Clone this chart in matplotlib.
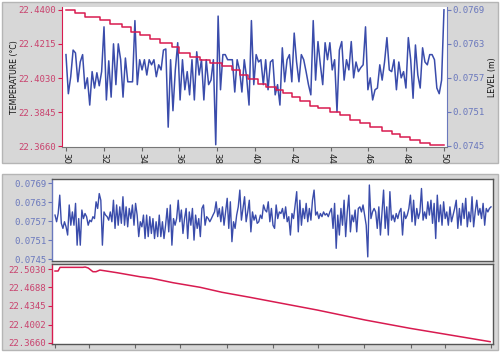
import matplotlib
matplotlib.use("Agg")
import matplotlib.pyplot as plt
import numpy as np
from matplotlib.patches import Rectangle

# ---------------- data ----------------
# Top chart: level (m) vs time, evenly sampled from 30 to 50
top_time_range = [30, 50]
top_level = [
    0.07611, 0.07542, 0.07572, 0.07619, 0.07614, 0.07563, 0.07598, 0.07611, 0.07551, 0.07570,
    0.07522, 0.07581, 0.07552, 0.07579, 0.07556, 0.07581, 0.07660, 0.07531, 0.07600, 0.07536,
    0.07630, 0.07558, 0.07630, 0.07602, 0.07536, 0.07605, 0.07563, 0.07563, 0.07563, 0.07671,
    0.07558, 0.07602, 0.07584, 0.07602, 0.07575, 0.07602, 0.07593, 0.07602, 0.07572, 0.07593,
    0.07584, 0.07619, 0.07621, 0.07483, 0.07602, 0.07512, 0.07584, 0.07632, 0.07531, 0.07602,
    0.07549, 0.07581, 0.07540, 0.07602, 0.07531, 0.07616, 0.07575, 0.07602, 0.07531, 0.07602,
    0.07558, 0.07566, 0.07602, 0.07452, 0.07679, 0.07549, 0.07611, 0.07611, 0.07602, 0.07602,
    0.07602, 0.07545, 0.07602, 0.07584, 0.07545, 0.07602, 0.07570, 0.07522, 0.07671, 0.07558,
    0.07611, 0.07598, 0.07602, 0.07558, 0.07602, 0.07549, 0.07598, 0.07602, 0.07540, 0.07558,
    0.07522, 0.07623, 0.07563, 0.07602, 0.07611, 0.07563, 0.07649, 0.07598, 0.07563, 0.07611,
    0.07602, 0.07581, 0.07558, 0.07540, 0.07671, 0.07566, 0.07634, 0.07593, 0.07558, 0.07632,
    0.07602, 0.07632, 0.07584, 0.07602, 0.07510, 0.07619, 0.07634, 0.07566, 0.07602, 0.07584,
    0.07634, 0.07570, 0.07598, 0.07581, 0.07588, 0.07593, 0.07660, 0.07549, 0.07570, 0.07531,
    0.07549, 0.07552, 0.07593, 0.07566, 0.07598, 0.07641, 0.07584, 0.07581, 0.07602, 0.07549,
    0.07598, 0.07570, 0.07581, 0.07552, 0.07641, 0.07602, 0.07534, 0.07628, 0.07575, 0.07552,
    0.07623, 0.07598, 0.07593, 0.07611, 0.07611, 0.07602, 0.07552, 0.07542, 0.07566, 0.07690,
]
# Top chart: temperature staircase (step start times and values)
top_temp_time = [
    30.0, 30.48, 31.0, 31.8, 32.33, 32.96, 33.44, 33.92, 34.44, 34.97,
    35.6, 35.98, 36.56, 37.09, 37.62, 38.25, 38.78, 39.21, 39.63, 40.16,
    40.58, 41.11, 41.48, 41.96, 42.38, 42.91, 43.33, 43.97, 44.5, 45.03,
    45.56, 46.08, 46.72, 47.25, 47.67, 48.2, 48.73, 49.26, 50.0,
]
top_temp = [
    22.4400, 22.4384, 22.4362, 22.4346, 22.4324, 22.4308, 22.4280, 22.4264, 22.4242, 22.4220,
    22.4199, 22.4166, 22.4144, 22.4128, 22.4112, 22.4095, 22.4074, 22.4046, 22.4025, 22.3997,
    22.3981, 22.3965, 22.3948, 22.3927, 22.3905, 22.3878, 22.3867, 22.3845, 22.3829, 22.3802,
    22.3785, 22.3764, 22.3742, 22.3725, 22.3709, 22.3693, 22.3676, 22.3666, 22.3666,
]
top_xticks = [30, 32, 34, 36, 38, 40, 42, 44, 46, 48, 50]
temp_ticks = [22.3660, 22.3845, 22.4030, 22.4215, 22.4400]
level_ticks = [0.0745, 0.0751, 0.0757, 0.0763, 0.0769]

# Bottom chart: level, evenly sampled over 0..100
bottom_time_range = [0, 100]
bottom_level = [
    0.07589, 0.07568, 0.07594, 0.07652, 0.07563, 0.07547, 0.07568, 0.07552, 0.07526, 0.07621,
    0.07557, 0.07599, 0.07557, 0.07626, 0.07494, 0.07578, 0.07494, 0.07605, 0.07578, 0.07594,
    0.07584, 0.07557, 0.07573, 0.07568, 0.07584, 0.07578, 0.07631, 0.07610, 0.07657, 0.07636,
    0.07494, 0.07599, 0.07589, 0.07584, 0.07573, 0.07599, 0.07568, 0.07636, 0.07547, 0.07621,
    0.07557, 0.07615, 0.07563, 0.07647, 0.07557, 0.07615, 0.07552, 0.07610, 0.07578, 0.07621,
    0.07557, 0.07626, 0.07589, 0.07521, 0.07568, 0.07552, 0.07589, 0.07515, 0.07589, 0.07521,
    0.07584, 0.07531, 0.07578, 0.07515, 0.07568, 0.07521, 0.07589, 0.07521, 0.07568, 0.07515,
    0.07557, 0.07610, 0.07536, 0.07621, 0.07494, 0.07578, 0.07557, 0.07578, 0.07636, 0.07568,
    0.07605, 0.07531, 0.07578, 0.07610, 0.07515, 0.07599, 0.07557, 0.07610, 0.07510, 0.07589,
    0.07547, 0.07578, 0.07521, 0.07610, 0.07621, 0.07557, 0.07584, 0.07578, 0.07568, 0.07578,
    0.07589, 0.07599, 0.07631, 0.07584, 0.07610, 0.07568, 0.07615, 0.07557, 0.07599, 0.07642,
    0.07547, 0.07631, 0.07505, 0.07568, 0.07547, 0.07589, 0.07615, 0.07668, 0.07573, 0.07610,
    0.07647, 0.07568, 0.07599, 0.07636, 0.07536, 0.07599, 0.07573, 0.07589, 0.07563, 0.07568,
    0.07589, 0.07578, 0.07621, 0.07605, 0.07599, 0.07631, 0.07568, 0.07610, 0.07557, 0.07547,
    0.07621, 0.07578, 0.07599, 0.07594,
    0.07610, 0.07578, 0.07615, 0.07568, 0.07584, 0.07526, 0.07594, 0.07578, 0.07621, 0.07663,
    0.07536, 0.07636, 0.07557, 0.07610, 0.07578, 0.07626, 0.07568, 0.07610, 0.07573, 0.07636,
    0.07668, 0.07589, 0.07599, 0.07578, 0.07594, 0.07584, 0.07599, 0.07589, 0.07594, 0.07584,
    0.07599, 0.07610, 0.07547, 0.07626, 0.07484, 0.07589, 0.07526, 0.07610, 0.07557, 0.07636,
    0.07521, 0.07599, 0.07652, 0.07536, 0.07589, 0.07568, 0.07605, 0.07536, 0.07610, 0.07615,
    0.07599, 0.07621, 0.07589, 0.07557, 0.07457, 0.07684, 0.07578, 0.07599, 0.07610, 0.07599,
    0.07547, 0.07615, 0.07526, 0.07599, 0.07668, 0.07547, 0.07615, 0.07526, 0.07663, 0.07573,
    0.07589, 0.07568, 0.07594, 0.07578, 0.07599, 0.07610, 0.07526, 0.07599, 0.07578, 0.07589,
    0.07610, 0.07652, 0.07568, 0.07636, 0.07557, 0.07610, 0.07578, 0.07599, 0.07673, 0.07573,
    0.07599, 0.07578, 0.07631, 0.07589, 0.07636, 0.07563, 0.07626, 0.07515, 0.07652, 0.07568,
    0.07621, 0.07557, 0.07631, 0.07578, 0.07599, 0.07557, 0.07615, 0.07568, 0.07589, 0.07610,
    0.07636, 0.07547, 0.07610, 0.07557, 0.07626, 0.07578, 0.07642, 0.07552, 0.07599, 0.07568,
    0.07647, 0.07552, 0.07599, 0.07636, 0.07589, 0.07610, 0.07578, 0.07626, 0.07557, 0.07610,
    0.07599, 0.07610, 0.07615,
]
# Bottom chart: temperature
bottom_temp_time = [0, 0.7, 1.15, 6.4, 6.9, 7.6, 8.7, 9.4, 10.3, 14.2, 19.5, 22.2, 27.1,
                    33.3, 38.3, 44.7, 50.0, 60.1, 71.1, 81.4, 90.6, 99.8]
bottom_temp = [22.4993, 22.4993, 22.5061, 22.5061, 22.5067, 22.5050, 22.4980, 22.4980,
               22.5011, 22.4962, 22.4887, 22.4858, 22.4776, 22.4691, 22.4599, 22.4506,
               22.4425, 22.4271, 22.4086, 22.3932, 22.3808, 22.3684]
bottom_level_ticks = [0.0745, 0.0751, 0.0757, 0.0763, 0.0769]
bottom_temp_ticks = [22.3660, 22.4002, 22.4345, 22.4688, 22.5030]
bottom_xticks = [0, 7.8, 18.3, 28.7, 39.4, 50, 60.3, 70.9, 81.7, 89.4, 100]

# ---------------- style ----------------
BLUE = "#3a4cab"
RED = "#d81b50"
RED_TXT = "#c9436e"
BLUE_TXT = "#6a78bd"
PANEL = "#d7d7d7"
MONO = "DejaVu Sans Mono"
FS = 6.5

W, H = 500, 352
fig = plt.figure(figsize=(W / 100, H / 100), dpi=100, facecolor="white")


def fr(x0, y0, x1, y1):
    # pixel box (top-left origin) -> figure fraction [left, bottom, width, height]
    return [x0 / W, 1 - y1 / H, (x1 - x0) / W, (y1 - y0) / H]


# gray panels
for box in [(2, 2, 498, 163), (2, 174, 498, 350)]:
    l, b, w, h = fr(*box)
    fig.patches.append(Rectangle((l, b), w, h, transform=fig.transFigure,
                                 facecolor=PANEL, edgecolor="#b5b5b5", lw=1.0, zorder=-10))

# ---------------- top chart ----------------
ax1 = fig.add_axes(fr(62, 7, 447, 147))
ax2 = ax1.twinx()
ax1.set_zorder(2)
ax2.set_zorder(1)
ax1.patch.set_visible(False)
ax2.patch.set_visible(True)
ax2.patch.set_facecolor("white")

x_top = np.linspace(top_time_range[0], top_time_range[1], len(top_level))
ax2.plot(x_top, top_level, color=BLUE, lw=1.1)
ax1.plot(top_temp_time, top_temp, color=RED, lw=1.1, drawstyle="steps-post")

ax1.set_xlim(29.79, 50.16)
ax1.set_ylim(22.3655, 22.4416)
ax2.set_ylim(0.07448, 0.07695)

ax1.set_xticks(top_xticks)
ax1.set_xticklabels([str(t) for t in top_xticks], rotation=-90, fontsize=6.2, color="#222222")
ax1.set_yticks(temp_ticks)
ax1.set_yticklabels([f"{t:.4f}" for t in temp_ticks], family=MONO, fontsize=FS, color=RED_TXT)
ax2.set_yticks(level_ticks)
ax2.set_yticklabels([f"{t:.4f}" for t in level_ticks], family=MONO, fontsize=FS, color=BLUE_TXT)

ax1.tick_params(axis="y", colors=RED, labelcolor=RED_TXT, length=3, pad=1.2)
ax2.tick_params(axis="y", colors=BLUE_TXT, labelcolor=BLUE_TXT, length=3, pad=1.0)
ax1.tick_params(axis="x", colors="#666666", labelcolor="#222222", length=3, pad=1.5)

for ax in (ax1, ax2):
    ax.spines["top"].set_visible(False)
ax1.spines["left"].set_color(RED)
ax1.spines["right"].set_visible(False)
ax2.spines["left"].set_visible(False)
ax2.spines["right"].set_color(BLUE_TXT)
ax1.spines["bottom"].set_color("#777777")
ax2.spines["bottom"].set_visible(False)

fig.text(15 / W, 1 - 77 / H, "TEMPERATURE (°C)", rotation=90, ha="center", va="center",
         fontsize=5.6, color="#111111")
fig.text(492 / W, 1 - 77 / H, "LEVEL (m)", rotation=90, ha="center", va="center",
         fontsize=5.6, color="#111111")

# ---------------- bottom chart ----------------
ax3 = fig.add_axes(fr(52, 179, 493, 261))
ax4 = fig.add_axes(fr(52, 264, 493, 344), sharex=ax3)

x_bot = np.linspace(bottom_time_range[0], bottom_time_range[1], len(bottom_level))
ax3.plot(x_bot, bottom_level, color=BLUE, lw=1.0)
ax4.plot(bottom_temp_time, bottom_temp, color=RED, lw=1.1)

ax3.set_xlim(-0.69, 100.46)
ax3.set_ylim(0.07444, 0.07703)
ax4.set_ylim(22.3641, 22.5123)

ax3.set_yticks(bottom_level_ticks)
ax3.set_yticklabels([f"{t:.4f}" for t in bottom_level_ticks], family=MONO, fontsize=FS,
                    color=BLUE_TXT)
ax4.set_yticks(bottom_temp_ticks)
ax4.set_yticklabels([f"{t:.4f}" for t in bottom_temp_ticks], family=MONO, fontsize=FS,
                    color=RED_TXT)
ax4.set_xticks(bottom_xticks)
ax4.tick_params(axis="x", labelbottom=False, length=3, colors="#666666")
ax3.tick_params(axis="x", bottom=False, labelbottom=False)
ax3.tick_params(axis="y", colors=BLUE_TXT, labelcolor=BLUE_TXT, length=3, pad=1.2)
ax4.tick_params(axis="y", colors=RED, labelcolor=RED_TXT, length=3, pad=1.2)

for ax in (ax3, ax4):
    for s in ax.spines.values():
        s.set_color("#555555")
        s.set_linewidth(1.0)
ax3.spines["left"].set_color(BLUE_TXT)
ax4.spines["left"].set_color(RED)

fig.savefig("out.png", dpi=100, facecolor="white")
